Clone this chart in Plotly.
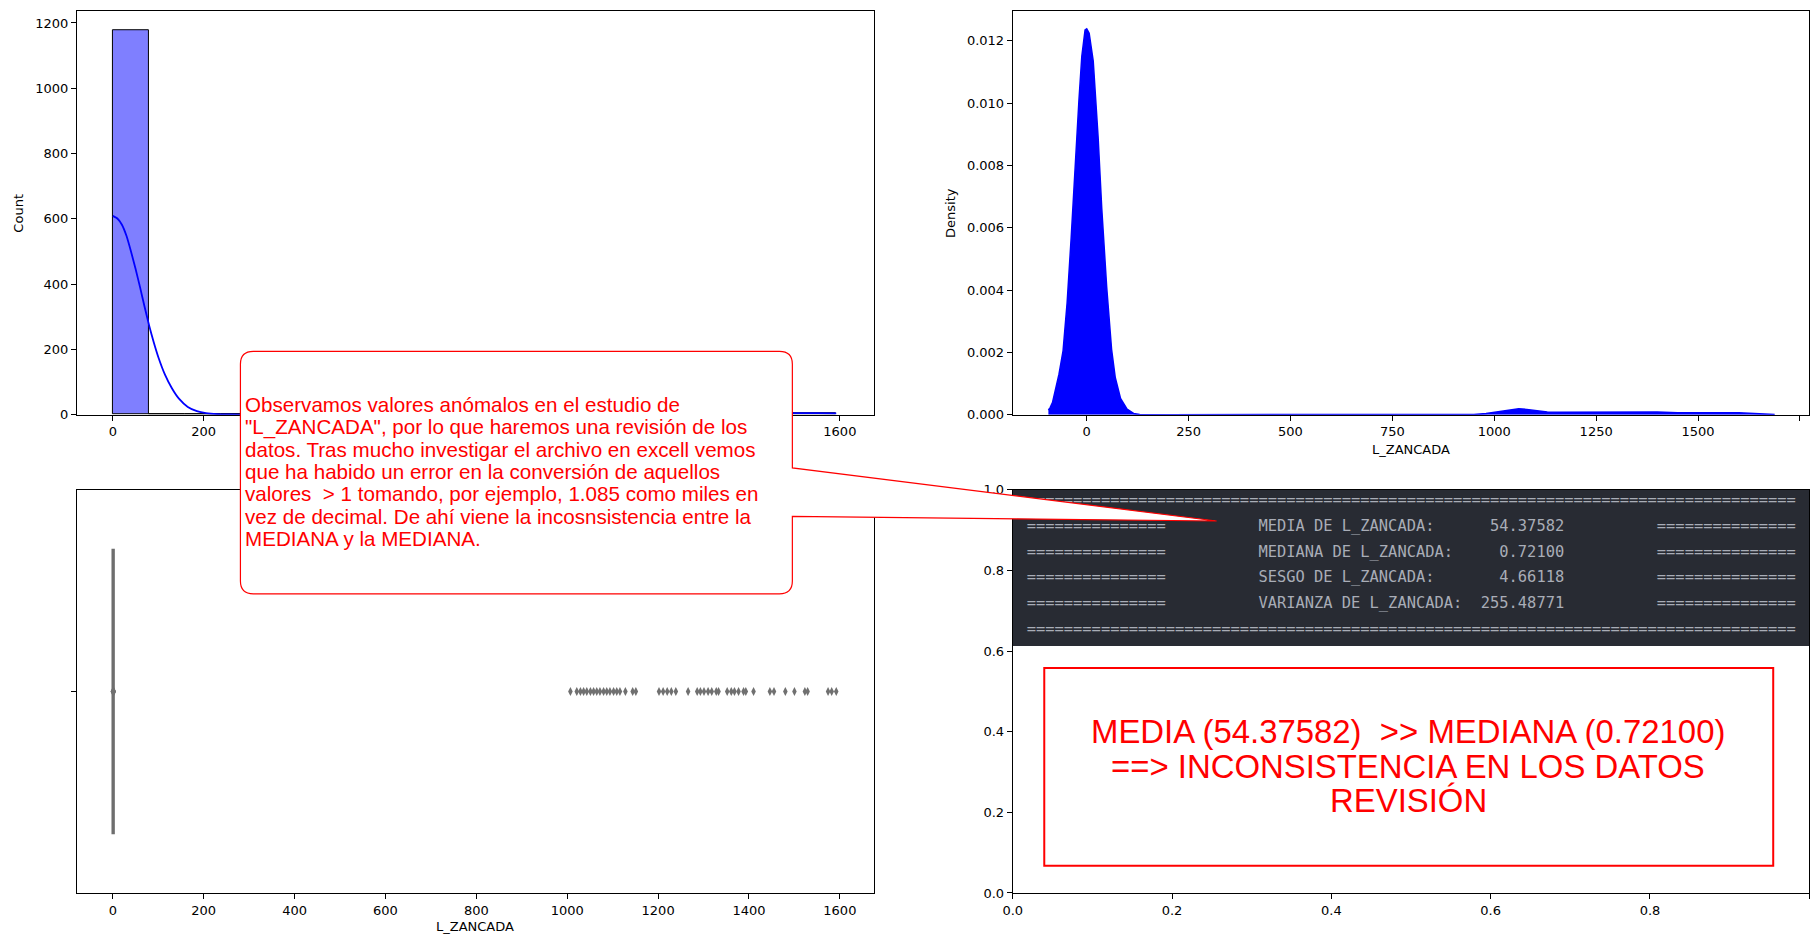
import plotly.graph_objects as go

W, H = 1812, 944

# ---------------- data ----------------
hist_bin_width = 79.6
hist_counts = [1177, 0, 0, 0, 0, 0, 0, 0, 0, 0, 0, 0, 3, 14, 4, 7, 8, 7, 4, 6]

hist_kde_x = [0, 10, 20, 30, 40, 50, 60, 70, 80, 90, 100, 115, 130, 145, 165, 185, 205, 230,
              260, 300, 400, 600, 800, 900, 950, 1000, 1060, 1120, 1200, 1300, 1400, 1500,
              1550, 1592]
hist_kde_y = [609, 601, 582, 548, 500, 447, 390, 330, 273, 222, 177, 122, 81, 50, 24, 11, 5, 2,
              1, 0, 0, 0, 0, 0.5, 2, 5, 8, 7, 6, 6, 6, 5, 5, 4]

density_x = [-94, -90, -84, -76, -68, -58, -48, -38, -29, -19, -12, -4, 0, 6, 16, 28, 37, 49,
             61, 70, 83, 99, 115, 130, 200, 400, 600, 800, 900, 950, 980, 1000, 1020, 1040,
             1060, 1080, 1100, 1130, 1160, 1200, 1250, 1300, 1350, 1400, 1450, 1500, 1550,
             1600, 1640, 1670, 1688]
density_y = [0.00015, 0.00022, 0.00039, 0.0008, 0.0013, 0.00205, 0.0036, 0.0057, 0.008,
             0.0101, 0.0115, 0.01235, 0.01238, 0.01224, 0.01135, 0.0089, 0.0066, 0.0041,
             0.0021, 0.0012, 0.00052, 0.00018, 0.00004, 0.00001, 0.0, 0.0, 0.0, 0.0, 0.0,
             0.00001, 0.00004, 0.00008, 0.00013, 0.00017, 0.00019, 0.00017, 0.00013,
             0.00009, 0.00008, 0.00008, 0.00009, 0.0001, 0.0001, 0.00009, 0.00006,
             0.00005, 0.00006, 0.00006, 0.00004, 0.00002, 0.00001]

box_stats = {"q1": 0.55, "median": 0.721, "q3": 0.92, "lowerfence": 0.2, "upperfence": 1.43}
outliers = [0.0, 0.05, 1.6, 1.8, 2.2,
            1007, 1021, 1029, 1036, 1043, 1051, 1058, 1065, 1072, 1080, 1087, 1094, 1102,
            1109, 1116, 1128, 1144, 1151, 1202, 1211, 1220, 1229, 1239, 1266, 1286, 1293,
            1301, 1310, 1318, 1328, 1333, 1352, 1361, 1368, 1377, 1388, 1393, 1410, 1446,
            1455, 1480, 1500, 1523, 1529, 1574, 1582, 1592]

stat_labels = ["MEDIA DE L_ZANCADA:", "MEDIANA DE L_ZANCADA:", "SESGO DE L_ZANCADA:",
               "VARIANZA DE L_ZANCADA:"]
stat_values = [54.37582, 0.72100, 4.66118, 255.48771]

callout_lines = [
    "Observamos valores anómalos en el estudio de",
    "\"L_ZANCADA\", por lo que haremos una revisión de los",
    "datos. Tras mucho investigar el archivo en excell vemos",
    "que ha habido un error en la conversión de aquellos",
    "valores  > 1 tomando, por ejemplo, 1.085 como miles en",
    "vez de decimal. De ahí viene la incosnsistencia entre la",
    "MEDIANA y la MEDIANA.",
]
conclusion_lines = [
    "MEDIA (54.37582)  >> MEDIANA (0.72100)",
    "==> INCONSISTENCIA EN LOS DATOS",
    "REVISIÓN",
]

# ---------------- helpers ----------------
NB = "\u00a0"


def px_x(x):
    return x / W


def px_y(y):
    return 1 - y / H


def dom_x(a, b):
    return [a / W, b / W]


def dom_y(top, bottom):
    return [1 - bottom / H, 1 - top / H]


TICKFONT = dict(family="DejaVu Sans", size=13, color="black")
axis_common = dict(showline=True, mirror=True, linecolor="black", linewidth=1,
                   ticks="outside", ticklen=5, tickwidth=1, tickcolor="black",
                   showgrid=False, zeroline=False, tickfont=TICKFONT,
                   ticklabelstandoff=0)

fig = go.Figure()

# ---- top-left: histogram + kde ----
bin_centers = [hist_bin_width * (i + 0.5) for i in range(len(hist_counts))]
fig.add_trace(go.Bar(x=bin_centers, y=hist_counts, width=hist_bin_width,
                     marker=dict(color="rgba(0,0,255,0.5)", line=dict(color="black", width=1)),
                     xaxis="x", yaxis="y", showlegend=False, hoverinfo="skip"))
fig.add_trace(go.Scatter(x=hist_kde_x, y=hist_kde_y, mode="lines",
                         line=dict(color="blue", width=1.8, shape="spline", smoothing=0.5),
                         xaxis="x", yaxis="y", showlegend=False, hoverinfo="skip"))

# ---- top-right: density ----
fig.add_trace(go.Scatter(x=density_x, y=density_y, mode="lines", fill="tozeroy",
                         fillcolor="blue", line=dict(color="blue", width=1.5),
                         xaxis="x2", yaxis="y2", showlegend=False, hoverinfo="skip"))

# ---- bottom-left: boxplot ----
fig.add_trace(go.Box(y=[0], q1=[box_stats["q1"]], median=[box_stats["median"]],
                     q3=[box_stats["q3"]], lowerfence=[box_stats["lowerfence"]],
                     upperfence=[box_stats["upperfence"]], orientation="h", width=0.7,
                     fillcolor="#808080", line=dict(color="#6e6e6e", width=3.2),
                     whiskerwidth=0, boxpoints=False,
                     xaxis="x3", yaxis="y3", showlegend=False, hoverinfo="skip"))
fig.add_trace(go.Scatter(x=outliers, y=[0] * len(outliers), mode="markers",
                         marker=dict(symbol="diamond-tall", size=6.5, color="#707070"),
                         xaxis="x3", yaxis="y3", showlegend=False, hoverinfo="skip"))

# ---- bottom-right: terminal text (as trace so that callout covers it) ----
term_lines = ["=" * 83]
for lab, val in zip(stat_labels, stat_values):
    term_lines.append("=" * 15 + " " * 10 + f"{lab:<22}" + f"{val:>11.5f}" + " " * 10 + "=" * 15)
term_lines.append("=" * 83)
term_y_px = [502.3, 528.7, 554.7, 580.7, 607.0, 633.3]
BR_L, BR_R, BR_T, BR_B = 1008.3, 1809.3, 490.7, 900.3
term_x = (1022.4 - BR_L) / (BR_R - BR_L)
term_y = [(BR_B - yy) / (BR_B - BR_T) for yy in term_y_px]
fig.add_trace(go.Scatter(x=[term_x] * len(term_lines), y=term_y, mode="text",
                         text=[t.replace(" ", NB) for t in term_lines],
                         textposition="middle right",
                         textfont=dict(family="DejaVu Sans Mono", size=15.4, color="#a9adb7"),
                         cliponaxis=False, xaxis="x4", yaxis="y4", showlegend=False,
                         hoverinfo="skip"))

# ---------------- layout ----------------
fig.update_layout(
    width=W, height=H, margin=dict(l=0, r=0, t=0, b=0),
    paper_bgcolor="white", plot_bgcolor="white", showlegend=False, bargap=0,
    xaxis=dict(domain=dom_x(67.3, 868.3), anchor="y", range=[-79, 1674],
               tickvals=[0, 200, 400, 600, 800, 1000, 1200, 1400, 1600], **axis_common),
    yaxis=dict(domain=dom_y(4.3, 414.3), anchor="x", range=[0, 1236],
               tickvals=[0, 200, 400, 600, 800, 1000, 1200], **axis_common),
    xaxis2=dict(domain=dom_x(BR_L, BR_R), anchor="y2", range=[-181.5, 1773],
                tickvals=[0, 250, 500, 750, 1000, 1250, 1500, 1750], **axis_common),
    yaxis2=dict(domain=dom_y(4.3, 414.3), anchor="x2", range=[0, 0.012947],
                tickvals=[0, 0.002, 0.004, 0.006, 0.008, 0.010, 0.012], tickformat=".3f",
                **axis_common),
    xaxis3=dict(domain=dom_x(67.3, 868.3), anchor="y3", range=[-79, 1674],
                tickvals=[0, 200, 400, 600, 800, 1000, 1200, 1400, 1600], **axis_common),
    yaxis3=dict(domain=dom_y(BR_T, BR_B), anchor="x3", range=[-0.5, 0.5],
                tickvals=[0], ticktext=[""], **axis_common),
    xaxis4=dict(domain=dom_x(BR_L, BR_R), anchor="y4", range=[0, 1],
                tickvals=[0, 0.2, 0.4, 0.6, 0.8, 1.0], tickformat=".1f", **axis_common),
    yaxis4=dict(domain=dom_y(BR_T, BR_B), anchor="x4", range=[0, 1],
                tickvals=[0, 0.2, 0.4, 0.6, 0.8, 1.0], tickformat=".1f", **axis_common),
)

shapes = []
# dark terminal block
shapes.append(dict(type="rect", xref="x4", yref="y4", x0=0, x1=1,
                   y0=(BR_B - 649.3) / (BR_B - BR_T), y1=1.0,
                   fillcolor="#282b33", line=dict(width=0), layer="below"))
# red conclusion box
shapes.append(dict(type="rect", xref="x4", yref="y4",
                   x0=(1040 - BR_L) / (BR_R - BR_L), x1=(1773 - BR_L) / (BR_R - BR_L),
                   y0=(BR_B - 872.7) / (BR_B - BR_T), y1=(BR_B - 671.7) / (BR_B - BR_T),
                   line=dict(color="red", width=2), fillcolor="rgba(0,0,0,0)", layer="above"))

# callout rounded box with pointer
L, T, R, B, r = 231.7, 350.0, 786.7, 596.3, 13.0
p1y, p2y, tipx, tipy = 468.3, 517.7, 1213.3, 522.3


def P(x, y):
    return f"{px_x(x):.6f},{px_y(y):.6f}"


path = (f"M {P(L + r, T)} L {P(R - r, T)} Q {P(R, T)} {P(R, T + r)} "
        f"L {P(R, p1y)} L {P(tipx, tipy)} L {P(R, p2y)} "
        f"L {P(R, B - r)} Q {P(R, B)} {P(R - r, B)} "
        f"L {P(L + r, B)} Q {P(L, B)} {P(L, B - r)} "
        f"L {P(L, T + r)} Q {P(L, T)} {P(L + r, T)} Z")
shapes.append(dict(type="path", xref="paper", yref="paper", path=path,
                   fillcolor="white", line=dict(color="red", width=1.2), layer="above"))
fig.update_layout(shapes=shapes)

annotations = []


def title_ann(text, x, y, angle=0):
    return dict(text=text, x=px_x(x), y=px_y(y), xref="paper", yref="paper",
                xanchor="center", yanchor="middle", showarrow=False, textangle=angle,
                borderpad=0, font=TICKFONT)


# axis titles
annotations.append(title_ann("Count", 9, 209, -90))
annotations.append(title_ann("Density", 945.5, 209, -90))
annotations.append(title_ann("L_ZANCADA", 1408.8, 450))
annotations.append(title_ann("L_ZANCADA", 467.8, 934))
# callout text
for i, line in enumerate(callout_lines):
    annotations.append(dict(text=line.replace("  ", NB + NB), x=px_x(234), y=px_y(403.8 + 22.7 * i),
                            xref="paper", yref="paper", xanchor="left", yanchor="middle",
                            showarrow=False,
                            font=dict(family="Liberation Sans, Arial", size=20.6, color="red")))
# conclusion text
for i, line in enumerate(conclusion_lines):
    annotations.append(dict(text=line.replace("  ", NB + NB), x=px_x(1406), y=px_y(736.7 + 35 * i),
                            xref="paper", yref="paper", xanchor="center", yanchor="middle",
                            showarrow=False,
                            font=dict(family="Liberation Sans, Arial", size=32.9, color="red")))
fig.update_layout(annotations=annotations)

fig.write_html(
    "out.html",
    config={"displayModeBar": False},
    post_script="document.body.style.margin='0px';document.body.style.padding='0px';"
                "document.documentElement.style.overflow='hidden';",
)
